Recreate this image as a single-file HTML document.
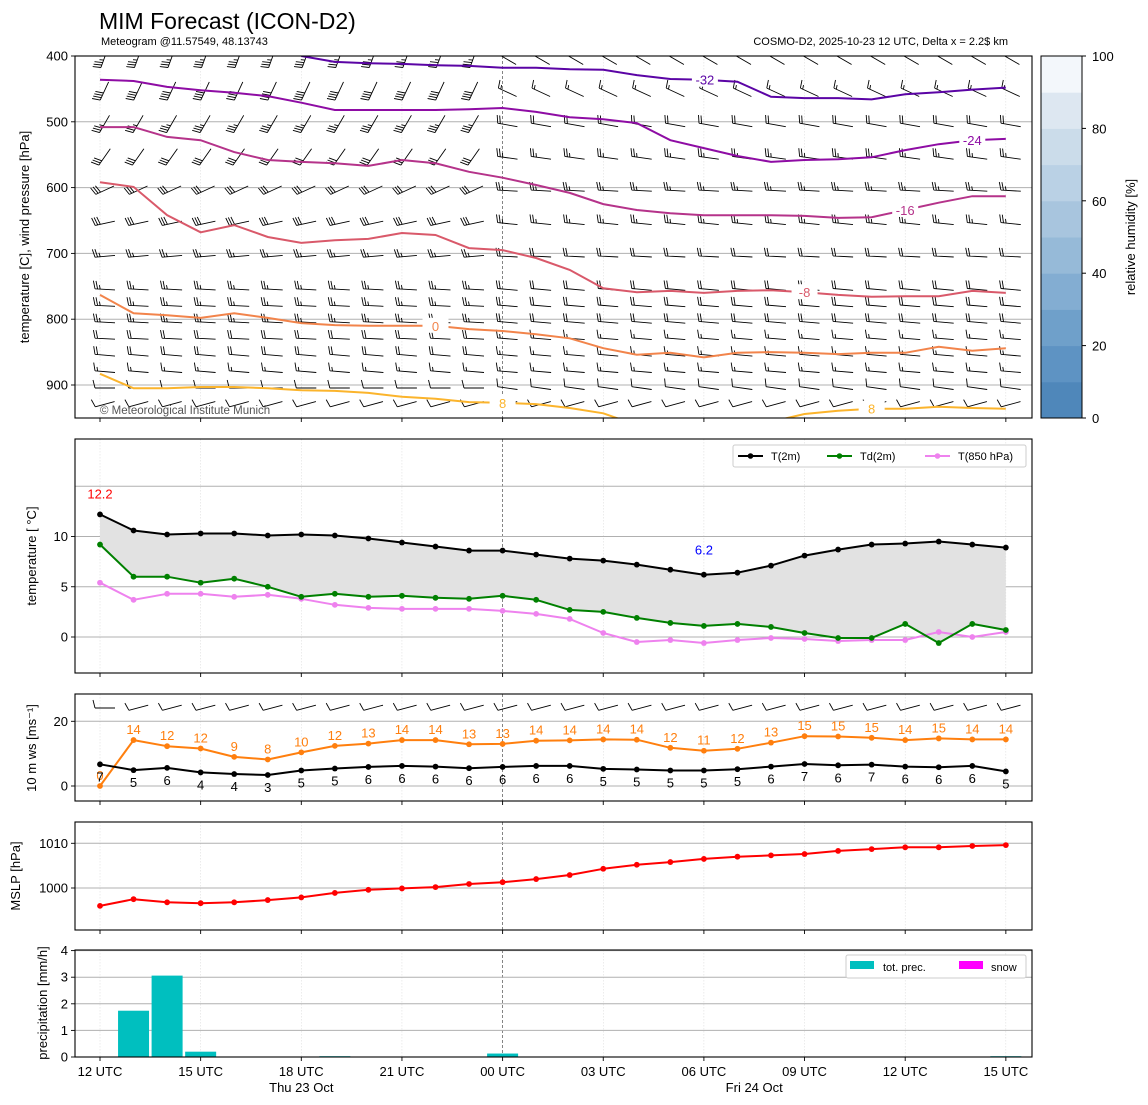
<!DOCTYPE html>
<html><head><meta charset="utf-8"><title>MIM Forecast (ICON-D2) meteogram</title>
<style>
html,body{margin:0;padding:0;background:#fff;}
svg{display:block;font-family:"Liberation Sans","DejaVu Sans",sans-serif;}
</style></head>
<body>
<svg id="chart" xmlns="http://www.w3.org/2000/svg" width="1148" height="1105" viewBox="0 0 1148 1105">
<text x="99" y="29" font-size="23" fill="#000">MIM Forecast (ICON-D2)</text>
<text x="101" y="45" font-size="11" fill="#000">Meteogram @11.57549, 48.13743</text>
<text x="1008" y="45" font-size="11" fill="#000" text-anchor="end">COSMO-D2, 2025-10-23 12 UTC, Delta x = 2.2$ km</text>
<defs>
<clipPath id="clip1"><rect x="75" y="56" width="957" height="362"/></clipPath>
<clipPath id="clip2"><rect x="75" y="439" width="957" height="234"/></clipPath>
<clipPath id="clip3"><rect x="75" y="694" width="957" height="107"/></clipPath>
<clipPath id="clip4"><rect x="75" y="822" width="957" height="108"/></clipPath>
<clipPath id="clip5"><rect x="75" y="950" width="957" height="107"/></clipPath>
</defs>
<g id="layer"></g>
</svg>
<script>
// ---------- data ----------
const hours = [0,1,2,3,4,5,6,7,8,9,10,11,12,13,14,15,16,17,18,19,20,21,22,23,24,25,26,27];
const tickHours = [0,3,6,9,12,15,18,21,24,27];
const tickLabels = ["12 UTC","15 UTC","18 UTC","21 UTC","00 UTC","03 UTC","06 UTC","09 UTC","12 UTC","15 UTC"];
// isotherm pressures (hPa) per hour; null = not present
const isoM32 = [null,null,null,null,null,null,400,409,411,412,414,415,418,418,420,421,429,435,436,439,462,464,464,466,458,455,451,448];
const isoM24 = [436,438,447,452,456,461,471,482,482,482,482,481,479,485,493,496,502,528,540,552,561,558,557,554,543,534,528,526];
const isoM16 = [508,508,523,528,546,558,561,563,567,558,563,576,585,596,608,625,634,639,642,642,642,643,646,645,634,623,613,613];
const isoM8  = [592,599,642,668,657,675,684,680,678,669,672,692,695,707,725,753,759,757,760,757,756,759,763,766,765,765,757,760];
const iso0   = [763,791,794,798,791,798,806,809,810,810,810,815,818,823,829,844,854,851,858,851,850,851,853,851,851,842,848,844];
const iso8   = [883,905,905,903,903,905,908,909,912,918,921,926,927,929,935,943,961,968,972,968,956,944,939,936,936,933,935,936];
const isoValues = [-32,-24,-16,-8,0,8];
const isoColors = ["#5b04a5","#8e0ca4","#b5338a","#d9596a","#f2844b","#fbb42c"];
const isoLabelHours = [[18],[26],[24],[21],[10],[12,23]];
// wind barb levels
const barbLevels = [400,450,500,550,600,650,700,750,775,800,825,850,875,900,925];
const barbDirEarly = [-70,-65,-60,-55,-25,-12,-5,3,3,3,3,5,5,0,-15];
const barbDirLate  = [30,25,10,8,3,6,3,5,5,5,5,5,5,8,-15];
const barbSpdEarly = [35,40,35,30,30,30,25,25,25,25,20,20,15,10,10];
const barbSpdLate  = [15,15,20,25,25,25,20,20,20,20,15,15,15,10,10];
// surface series
const t2m   = [12.2,10.6,10.2,10.3,10.3,10.1,10.2,10.1,9.8,9.4,9.0,8.6,8.6,8.2,7.8,7.6,7.2,6.7,6.2,6.4,7.1,8.1,8.7,9.2,9.3,9.5,9.2,8.9];
const td2m  = [9.2,6.0,6.0,5.4,5.8,5.0,4.0,4.3,4.0,4.1,3.9,3.8,4.1,3.7,2.7,2.5,1.9,1.4,1.1,1.3,1.0,0.4,-0.1,-0.1,1.3,-0.6,1.3,0.7];
const t850  = [5.4,3.7,4.3,4.3,4.0,4.2,3.8,3.2,2.9,2.8,2.8,2.8,2.6,2.3,1.8,0.4,-0.5,-0.3,-0.6,-0.3,-0.1,-0.2,-0.4,-0.3,-0.3,0.5,0.0,0.5];
const wind10 = [6.7,4.9,5.6,4.2,3.7,3.4,4.8,5.4,5.9,6.2,6.0,5.5,5.9,6.2,6.2,5.3,5.1,4.8,4.8,5.2,6.0,6.8,6.4,6.6,6.0,5.8,6.2,4.5];
const gust10 = [0,14.2,12.3,11.6,9.0,8.2,10.4,12.4,13.1,14.2,14.2,12.9,13.0,14.0,14.1,14.4,14.3,11.8,10.9,11.5,13.4,15.4,15.3,14.9,14.2,14.7,14.4,14.4];
const mslp  = [996.0,997.5,996.8,996.6,996.8,997.3,997.9,998.9,999.6,999.9,1000.2,1000.9,1001.3,1002.0,1002.9,1004.3,1005.2,1005.8,1006.5,1007.0,1007.3,1007.6,1008.3,1008.7,1009.1,1009.1,1009.4,1009.6];
const precip = [0,1.74,3.06,0.2,0,0,0,0.03,0,0,0,0,0.13,0,0,0,0,0,0,0,0,0,0,0,0,0,0,0.03];
const snow   = [0,0,0,0,0,0,0,0,0,0,0,0,0,0,0,0,0,0,0,0,0,0,0,0,0,0,0,0];
const rhTicks = [0,20,40,60,80,100];
const rhColors = ["#4f87ba","#5e93c3","#6fa0ca","#83add2","#96bad8","#a8c5de","#bad1e5","#cbdcea","#dde7f1","#f3f7fb"];

// ---------- helpers ----------
const NS = "http://www.w3.org/2000/svg";
const root = document.getElementById('layer');
function mk(tag, attrs, parent){
  const e = document.createElementNS(NS, tag);
  for (const k in attrs) e.setAttribute(k, attrs[k]);
  (parent||root).appendChild(e);
  return e;
}
const X0 = 100, DX = 33.55;
const xs = h => X0 + h*DX;
const P = [
  {top:56,bot:418},{top:439,bot:673},{top:694,bot:801},{top:822,bot:930},{top:950,bot:1057}
];
const yP1 = p => 56 + (p-400)*0.658;
const yP2 = t => 637 - t*10.05;
const yP3 = w => 786 - w*3.235;
const yP4 = p => 888 - (p-1000)*4.47;
const yP5 = m => 1057 - m*26.6;

function frame(i, name){
  const p = P[i];
  tickHours.forEach((h,k)=>{
    const g = mk('line',{x1:xs(h),x2:xs(h),y1:p.top,y2:p.bot,stroke:h===12?'#666':'#d8d8d8','stroke-width':h===12?0.8:0.5,'stroke-dasharray':h===12?'3,2':'1.5,1.5'});
    
    
    const t = mk('line',{x1:xs(h),x2:xs(h),y1:p.bot,y2:p.bot+4,stroke:'#000','stroke-width':0.9});
    
    
  });
}
function border(i, name){
  const p = P[i];
  const r = mk('rect',{x:75,y:p.top,width:957,height:p.bot-p.top,fill:'none',stroke:'#000','stroke-width':1.1});
  
  
}
function hgrid(yv, name, label, lx){
  const l = mk('line',{x1:75,x2:1032,y1:yv,y2:yv,stroke:'#b0b0b0','stroke-width':1});
  
  
  if (label!==null && label!==undefined){
    const t = mk('line',{x1:71,x2:75,y1:yv,y2:yv,stroke:'#000','stroke-width':0.9});
    
    
    const tx = mk('text',{x:lx||68,y:yv+4.5,'font-size':13,'text-anchor':'end',fill:'#000'});
    tx.textContent = label;
    
    
  }
}
function ylabel(x, y, txt, name){
  const t = mk('text',{x:x,y:y,'font-size':13,'text-anchor':'middle',transform:`rotate(-90 ${x} ${y})`,fill:'#000'});
  t.textContent = txt;
  
  
  return t;
}
function series(vals, yf, color, name, clip, marker){
  const g = mk('g',{'clip-path':`url(#${clip})`});
  
  
  let d='';
  vals.forEach((v,i)=>{ d += (i?'L':'M')+xs(hours[i]).toFixed(1)+','+yf(v).toFixed(1); });
  mk('path',{d:d,fill:'none',stroke:color,'stroke-width':2,'stroke-linejoin':'round'},g);
  if (marker){
    vals.forEach((v,i)=>{
      const c = mk('circle',{cx:xs(hours[i]),cy:yf(v),r:2.9,fill:color},g);
      
      
    });
  }
  return g;
}
function barb(parent, cx, cy, ang, spd, len){
  len = len||20;
  const a = ang*Math.PI/180;
  const dx = Math.cos(a), dy = Math.sin(a);
  const px = dy, py = -dx;
  const fx = cx - dx*len*0.45, fy = cy - dy*len*0.45;
  const ex = cx + dx*len*0.55, ey = cy + dy*len*0.55;
  let d = `M${fx.toFixed(1)},${fy.toFixed(1)}L${ex.toFixed(1)},${ey.toFixed(1)}`;
  let s = Math.round(spd/5)*5, pos = 0;
  const BL = 8;
  while (s >= 50){
    const bx = fx+dx*pos, by = fy+dy*pos;
    d += `M${bx.toFixed(1)},${by.toFixed(1)}L${(bx+px*BL+dx*2).toFixed(1)},${(by+py*BL+dy*2).toFixed(1)}L${(bx+dx*4).toFixed(1)},${(by+dy*4).toFixed(1)}`;
    pos += 5; s -= 50;
  }
  while (s >= 10){
    const bx = fx+dx*pos, by = fy+dy*pos;
    d += `M${bx.toFixed(1)},${by.toFixed(1)}L${(bx+px*BL-dx*2).toFixed(1)},${(by+py*BL-dy*2).toFixed(1)}`;
    pos += 2.6; s -= 10;
  }
  if (s >= 5){
    if (pos===0) pos = 2.6;
    const bx = fx+dx*pos, by = fy+dy*pos;
    d += `M${bx.toFixed(1)},${by.toFixed(1)}L${(bx+px*BL*0.5-dx*1).toFixed(1)},${(by+py*BL*0.5-dy*1).toFixed(1)}`;
  }
  const p = mk('path',{d:d,fill:'none',stroke:'#000','stroke-width':0.9},parent);
  
  
}

// ---------- Panel 1: upper air ----------
frame(0,'upper-air');
[500,600,700,800,900].forEach(p=>hgrid(yP1(p),'pressure',String(p)));
hgrid(yP1(400),'pressure-top','400');
ylabel(29,237,'temperature [C], wind pressure [hPa]','upper-air-y-axis-title');
const barbG = mk('g',{'clip-path':'url(#clip1)'});


barbLevels.forEach((lv,li)=>{
  hours.forEach(h=>{
    const late = h>=12;
    barb(barbG, xs(h)+4, yP1(lv)+3, late?barbDirLate[li]:barbDirEarly[li], late?barbSpdLate[li]:barbSpdEarly[li], 20);
  });
});
const isoSets = [isoM32,isoM24,isoM16,isoM8,iso0,iso8];
const isoG = mk('g',{'clip-path':'url(#clip1)'});


isoSets.forEach((arr,k)=>{
  let d='', pen=false;
  arr.forEach((v,i)=>{
    if (v===null){pen=false;return;}
    d += (pen?'L':'M')+xs(hours[i]).toFixed(1)+','+yP1(v).toFixed(1); pen=true;
  });
  const pth = mk('path',{d:d,fill:'none',stroke:isoColors[k],'stroke-width':2},isoG);
  
  
  isoLabelHours[k].forEach(h=>{
    const v = arr[h];
    const lx = xs(h)+(h===18?1:0), ly = Math.min(yP1(v), 412);
    mk('rect',{x:lx-13,y:ly-8,width:26,height:15,fill:'#fff'},isoG);
    const t = mk('text',{x:lx,y:ly+5,'font-size':13,'text-anchor':'middle',fill:isoColors[k]},isoG);
    t.textContent = String(isoValues[k]);
    
    
  });
});
const cp = mk('text',{x:100,y:414,'font-size':11.5,fill:'#555'});
cp.textContent = '© Meteorological Institute Munich';


border(0,'upper-air');

// colorbar
const cbG = mk('g',{});


const cbTop=56, cbBot=418, cbH=(cbBot-cbTop);
rhColors.forEach((c,i)=>{
  const r = mk('rect',{x:1041,y:(cbBot-(i+1)*cbH/10).toFixed(2),width:41,height:(cbH/10+0.5).toFixed(2),fill:c},cbG);
  
  
});
mk('rect',{x:1041,y:cbTop,width:41,height:cbH,fill:'none',stroke:'#000','stroke-width':1},cbG);
rhTicks.forEach(v=>{
  const y = cbBot - v/100*cbH;
  mk('line',{x1:1082,x2:1086,y1:y,y2:y,stroke:'#000'},cbG);
  const t = mk('text',{x:1092,y:y+5,'font-size':13,fill:'#000'},cbG);
  t.textContent = String(v);
  
  
});
ylabel(1135,237,'relative humidity [%]','rh-colorbar-title');

// ---------- Panel 2: temperature ----------
frame(1,'temperature');
[0,5,10].forEach(v=>hgrid(yP2(v),'temperature',String(v)));
hgrid(yP2(15),'temperature',null);
ylabel(36,556,'temperature [ °C]','temperature-y-axis-title');
{
  let d='';
  t2m.forEach((v,i)=>{ d += (i?'L':'M')+xs(hours[i]).toFixed(1)+','+yP2(v).toFixed(1); });
  for (let i=td2m.length-1;i>=0;i--) d += 'L'+xs(hours[i]).toFixed(1)+','+yP2(td2m[i]).toFixed(1);
  const f = mk('path',{d:d+'Z',fill:'#e2e2e2',stroke:'none','clip-path':'url(#clip2)'});
  
  
}
series(t850, yP2, '#ee82ee', 't850-line', 'clip2', true);
series(td2m, yP2, '#008000', 'td2m-line', 'clip2', true);
series(t2m, yP2, '#000000', 't2m-line', 'clip2', true);
{
  let iMax=0,iMin=0;
  t2m.forEach((v,i)=>{ if(v>t2m[iMax]) iMax=i; if(v<t2m[iMin]) iMin=i; });
  const a = mk('text',{x:xs(hours[iMax]),y:yP2(t2m[iMax])-16,'font-size':13,'text-anchor':'middle',fill:'#ff0000'});
  a.textContent = t2m[iMax].toFixed(1);
  
  
  const b = mk('text',{x:xs(hours[iMin]),y:yP2(t2m[iMin])-20,'font-size':13,'text-anchor':'middle',fill:'#0000ff'});
  b.textContent = t2m[iMin].toFixed(1);
  
  
}
{
  const lg = mk('g',{});
  
  
  mk('rect',{x:733,y:445,width:293,height:22,rx:2,fill:'#fff',stroke:'#ccc'},lg);
  [['T(2m)','#000',738],['Td(2m)','#008000',827],['T(850 hPa)','#ee82ee',925]].forEach(e=>{
    const g = mk('g',{},lg);
    
    
    mk('line',{x1:e[2],x2:e[2]+25,y1:456,y2:456,stroke:e[1],'stroke-width':2},g);
    mk('circle',{cx:e[2]+12.5,cy:456,r:2.8,fill:e[1]},g);
    const t = mk('text',{x:e[2]+33,y:460,'font-size':11,fill:'#000'},g);
    t.textContent = e[0];
  });
}
border(1,'temperature');

// ---------- Panel 3: wind ----------
frame(2,'wind');
hgrid(yP3(0),'wind','0');
hgrid(yP3(20),'wind','20');
ylabel(36,748,'10 m ws [ms⁻¹]','wind-y-axis-title');
{
  const g = mk('g',{'clip-path':'url(#clip3)'});
  
  
  hours.forEach(h=>barb(g, xs(h)+4, 708, h===0?0:-15, 10, 20));
}
series(gust10, yP3, '#ff7f0e', 'gust-line', 'clip3', true);
series(wind10, yP3, '#000000', 'wind-speed-line', 'clip3', true);
gust10.forEach((v,i)=>{
  const t = mk('text',{x:xs(hours[i]),y:yP3(v)-6,'font-size':13,'text-anchor':'middle',fill:'#ff7f0e'});
  t.textContent = String(Math.round(v));
  
  
});
wind10.forEach((v,i)=>{
  const t = mk('text',{x:xs(hours[i]),y:yP3(v)+17,'font-size':13,'text-anchor':'middle',fill:'#000'});
  t.textContent = String(Math.round(v));
  
  
});
border(2,'wind');

// ---------- Panel 4: MSLP ----------
frame(3,'mslp');
hgrid(yP4(1000),'mslp','1000');
hgrid(yP4(1010),'mslp','1010');
ylabel(20,876,'MSLP [hPa]','mslp-y-axis-title');
series(mslp, yP4, '#ff0000', 'mslp-line', 'clip4', true);
border(3,'mslp');

// ---------- Panel 5: precipitation ----------
frame(4,'precip');
[1,2,3].forEach(v=>hgrid(yP5(v),'precip',String(v)));
hgrid(yP5(0),'precip-zero','0');
hgrid(yP5(4),'precip-top','4');
ylabel(47,1003,'precipitation [mm/h]','precip-y-axis-title');
{
  const g = mk('g',{'clip-path':'url(#clip5)'});
  
  
  precip.forEach((v,i)=>{
    if (v<=0) return;
    const r = mk('rect',{x:xs(hours[i])-15.5,y:yP5(v),width:31,height:yP5(0)-yP5(v),fill:'#00bfbf'},g);
    
    
  });
  snow.forEach((v,i)=>{
    if (v<=0) return;
    const r = mk('rect',{x:xs(hours[i])-15.5,y:yP5(v),width:31,height:yP5(0)-yP5(v),fill:'#ff00ff'},g);
    
    
  });
}
{
  const lg = mk('g',{});
  
  
  mk('rect',{x:846,y:955,width:180,height:23,rx:2,fill:'#fff',stroke:'#ccc'},lg);
  mk('rect',{x:850,y:961,width:24,height:8,fill:'#00bfbf'},lg);
  const t1 = mk('text',{x:883,y:971,'font-size':11,fill:'#000'},lg); t1.textContent='tot. prec.';
  mk('rect',{x:959,y:961,width:24,height:8,fill:'#ff00ff'},lg);
  const t2 = mk('text',{x:991,y:971,'font-size':11,fill:'#000'},lg); t2.textContent='snow';
}
border(4,'precip');
tickHours.forEach((h,k)=>{
  const t = mk('text',{x:xs(h),y:1076,'font-size':13,'text-anchor':'middle',fill:'#000'});
  t.textContent = tickLabels[k];
  
  
});
[['Thu 23 Oct',6],['Fri 24 Oct',19.5]].forEach(d=>{
  const t = mk('text',{x:xs(d[1]),y:1092,'font-size':13,'text-anchor':'middle',fill:'#000'});
  t.textContent = d[0];
  
  
});
</script>
</body></html>
